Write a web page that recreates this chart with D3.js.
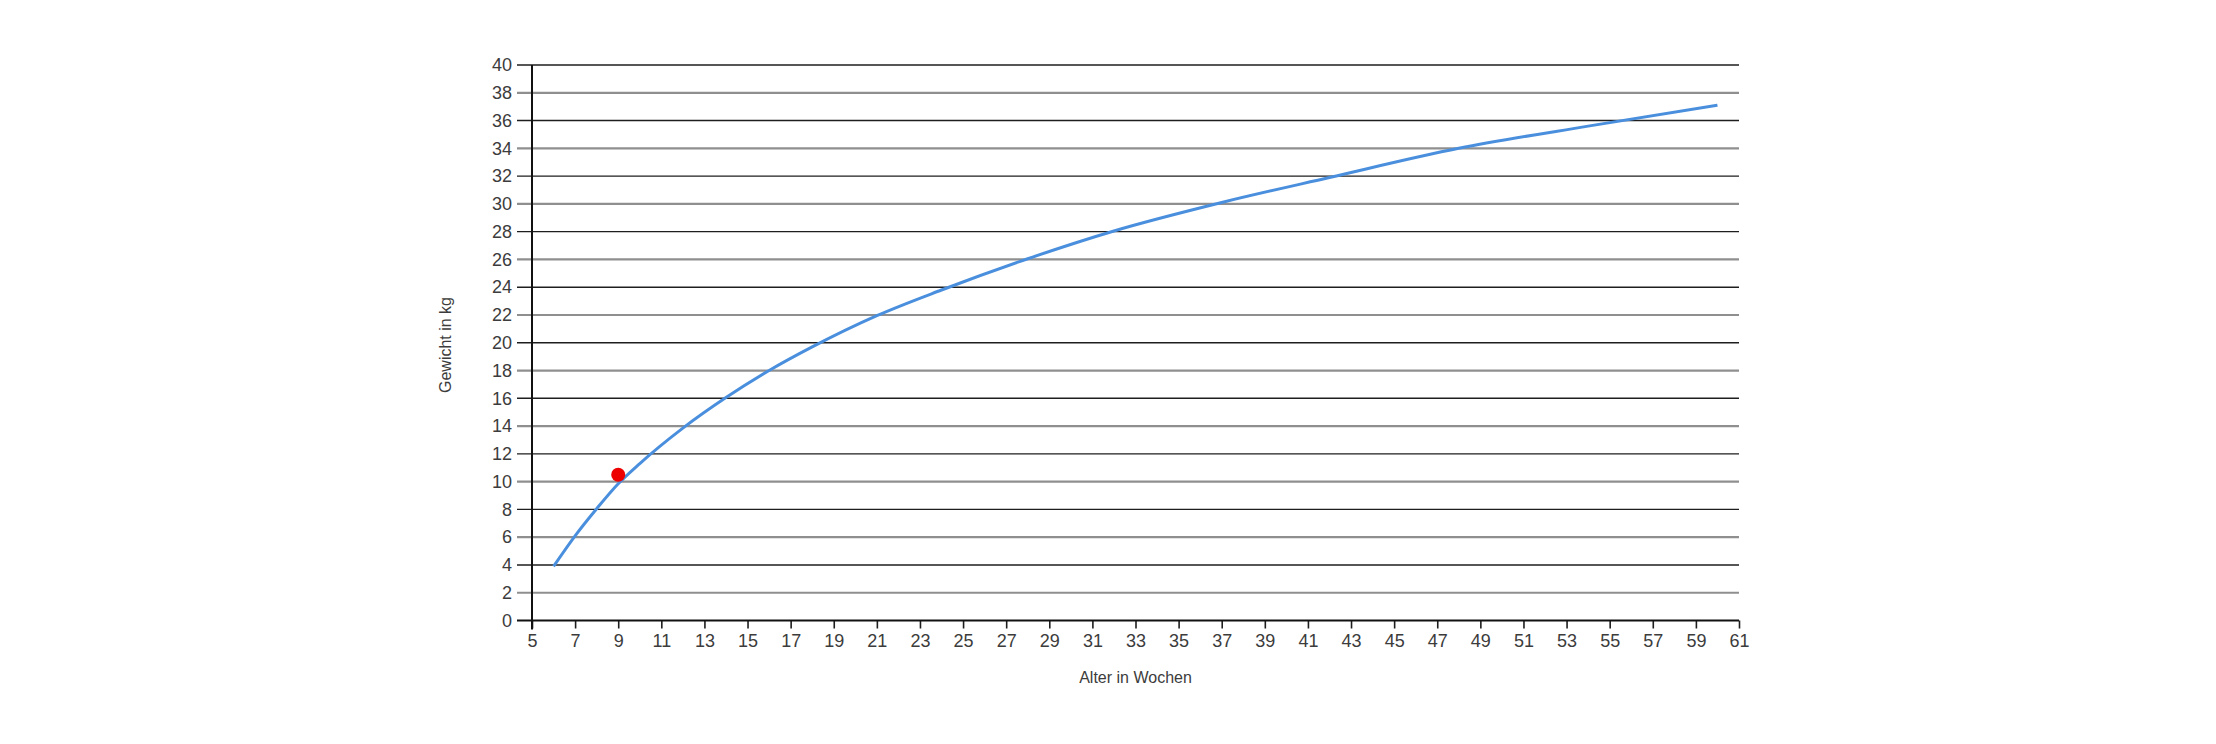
<!DOCTYPE html>
<html>
<head>
<meta charset="utf-8">
<script src="https://cdn.jsdelivr.net/npm/d3@7"></script>
<style>
  html, body { margin: 0; padding: 0; background: #fff; }
  svg { display: block; }
  text { font-family: "Liberation Sans", Arial, sans-serif; }
</style>
</head>
<body>
<div id="viz"></div>
<script>
// curve (age in weeks -> weight in kg)
var weeks = [6, 7, 8, 9, 10, 12, 14, 16, 18, 21, 24, 28, 32, 37, 42, 48, 54, 60];
var weights = [3.9, 6.1, 8.05, 9.85, 11.3, 13.85, 16.05, 18.0, 19.7, 21.95, 23.8, 26.05, 28.05, 30.1, 31.9, 34.0, 35.6, 37.1];

// the single measured point
var pointWeek = [9];
var pointWeight = [10.5];

var xTicks = d3.range(5, 62, 2);
var yTicks = d3.range(0, 41, 2);

var W = 2216, H = 744;
var margin = { top: 65, left: 532, right: 2216 - 1739, bottom: 744 - 620.5 };

var x = d3.scaleLinear()
  .domain([5, 61])
  .range([margin.left, W - margin.right]);

var y = d3.scaleLinear()
  .domain([0, 40])
  .range([H - margin.bottom, margin.top]);

var svg = d3.select('#viz').append('svg')
  .attr('width', W)
  .attr('height', H);

// horizontal grid, every 4 kg dark and thin, the others grey and wider
svg.append('g')
  .selectAll('line')
  .data(yTicks.filter(function(d) { return d > 0; }))
  .enter().append('line')
  .attr('x1', margin.left - 15)
  .attr('x2', x(61))
  .attr('y1', function(d) { return y(d); })
  .attr('y2', function(d) { return y(d); })
  .attr('stroke', function(d) { return d % 4 === 0 ? '#1e1e1e' : '#8f8f8f'; })
  .attr('stroke-width', function(d) { return d % 4 === 0 ? 1.4 : 2.2; });

// y axis labels
var yGuide = svg.append('g')
  .attr('transform', 'translate(' + margin.left + ',0)')
  .call(d3.axisLeft(y).tickValues(yTicks).tickSize(0).tickPadding(20));
yGuide.select('.domain').remove();
yGuide.selectAll('text')
  .style('font-size', '18px')
  .attr('fill', '#3c3c3c');

// x axis
var xGuide = svg.append('g')
  .attr('transform', 'translate(0,' + y(0) + ')')
  .call(d3.axisBottom(x).tickValues(xTicks).tickSize(8).tickPadding(6));
xGuide.select('.domain').remove();
xGuide.selectAll('line')
  .attr('stroke', '#1e1e1e')
  .attr('stroke-width', 1.6);
xGuide.selectAll('text')
  .style('font-size', '18px')
  .attr('fill', '#3c3c3c');

// axis lines
svg.append('line')
  .attr('x1', margin.left - 15).attr('x2', x(61))
  .attr('y1', y(0)).attr('y2', y(0))
  .attr('stroke', '#111').attr('stroke-width', 2);
svg.append('line')
  .attr('x1', margin.left).attr('x2', margin.left)
  .attr('y1', y(40)).attr('y2', y(0) + 9)
  .attr('stroke', '#111').attr('stroke-width', 2);

// axis titles
svg.append('text')
  .attr('x', (x(5) + x(61)) / 2)
  .attr('y', 683)
  .attr('text-anchor', 'middle')
  .style('font-size', '16px')
  .attr('fill', '#3c3c3c')
  .text('Alter in Wochen');

svg.append('text')
  .attr('transform', 'translate(451,' + 345 + ') rotate(-90)')
  .attr('text-anchor', 'middle')
  .style('font-size', '16px')
  .attr('fill', '#3c3c3c')
  .text('Gewicht in kg');

// growth curve
var line = d3.line()
  .x(function(d, i) { return x(weeks[i]); })
  .y(function(d) { return y(d); })
  .curve(d3.curveMonotoneX);

svg.append('path')
  .datum(weights)
  .attr('d', line)
  .attr('fill', 'none')
  .attr('stroke', '#4a8fdd')
  .attr('stroke-width', 3);

// measured point
svg.append('g')
  .selectAll('circle')
  .data(pointWeight)
  .enter().append('circle')
  .attr('cx', function(d, i) { return x(pointWeek[i]); })
  .attr('cy', function(d) { return y(d); })
  .attr('r', 7)
  .attr('fill', '#ec0000');
</script>
</body>
</html>
